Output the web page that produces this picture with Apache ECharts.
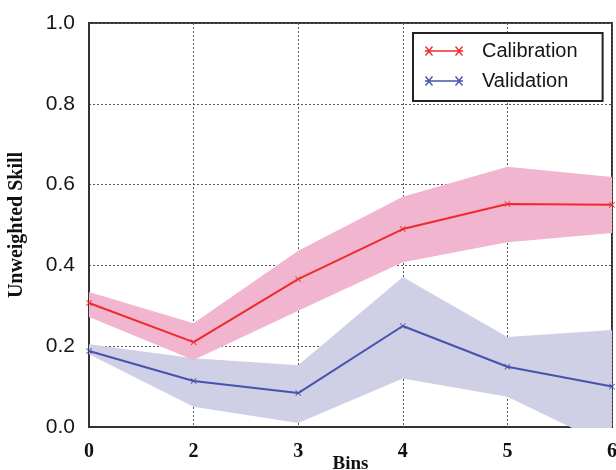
<!DOCTYPE html>
<html>
<head>
<meta charset="utf-8">
<style>
  html, body { margin: 0; padding: 0; background: #fff; }
  #chart { width: 616px; height: 470px; }
</style>
<script src="https://cdn.jsdelivr.net/npm/echarts@6/dist/echarts.min.js"></script>
</head>
<body>
<div id="chart"></div>
<script>
// bins along the x axis
const bins = ["0", "2", "3", "4", "5", "6"];

// calibration skill and its band
const calMean = [0.307, 0.21, 0.366, 0.49, 0.552, 0.55];
const calLower = [0.272, 0.166, 0.288, 0.408, 0.457, 0.48];
const calUpper = [0.334, 0.257, 0.436, 0.57, 0.644, 0.619];

// validation skill and its band
const valMean = [0.188, 0.114, 0.084, 0.25, 0.149, 0.1];
const valLower = [0.18, 0.05, 0.01, 0.12, 0.075, -0.05];
const valUpper = [0.205, 0.17, 0.153, 0.371, 0.223, 0.24];

const yTicks = [0, 0.2, 0.4, 0.6, 0.8, 1.0];

const crossPath = "path://M0,1L1,0L5,4L9,0L10,1L6,5L10,9L9,10L5,6L1,10L0,9L4,5Z";
const legendIcon =
  "path://M0,4.3L38,4.3L38,5.7L0,5.7Z" +
  "M0,1L1,0L4,3.5L7,0L8,1L4.6,5L8,9L7,10L4,6.5L1,10L0,9L3.4,5Z" +
  "M30,1L31,0L34,3.5L37,0L38,1L34.6,5L38,9L37,10L34,6.5L31,10L30,9L33.4,5Z";

const calColor = "#ee2b2b";
const calBand = "#f1b5cf";
const valColor = "#4652ad";
const valBand = "#cfcfe6";

function band(name, lower, upper, color) {
  return [
    {
      name: name + "-low",
      type: "line",
      stack: name,
      stackStrategy: "all",
      data: lower,
      symbol: "none",
      lineStyle: { opacity: 0 },
      silent: true,
    },
    {
      name: name + "-band",
      type: "line",
      stack: name,
      stackStrategy: "all",
      data: upper.map((u, i) => u - lower[i]),
      symbol: "none",
      lineStyle: { opacity: 0 },
      areaStyle: { color: color, opacity: 1 },
      silent: true,
    },
  ];
}

const chart = echarts.init(document.getElementById("chart"));

chart.setOption({
  animation: false,
  grid: {
    left: 89,
    right: 4,
    top: 23,
    bottom: 43,
    outerBoundsMode: "none",
    containLabel: false,
    show: true,
    borderColor: "#333",
    borderWidth: 2,
    backgroundColor: "transparent",
  },
  legend: {
    data: ["Calibration", "Validation"],
    orient: "vertical",
    left: 413,
    top: 33,
    padding: [8, 25, 10, 12],
    itemWidth: 38,
    itemHeight: 14,
    itemGap: 10,
    backgroundColor: "#fff",
    borderColor: "#222",
    borderWidth: 2,
    borderRadius: 0,
    icon: legendIcon,
    textStyle: {
      fontFamily: "Liberation Sans",
      fontSize: 20,
      color: "#151515",
      padding: [0, 0, 0, 14],
    },
  },
  xAxis: {
    type: "category",
    data: bins,
    boundaryGap: false,
    name: "Bins",
    nameLocation: "middle",
    nameGap: 28,
    nameMoveOverlap: false,
    nameTextStyle: {
      fontFamily: "Liberation Serif",
      fontWeight: "bold",
      fontSize: 19,
      color: "#111",
      verticalAlign: "top",
    },
    axisLine: { lineStyle: { color: "#333", width: 2 } },
    axisTick: { show: false },
    axisLabel: {
      margin: 15,
      fontFamily: "Liberation Serif",
      fontWeight: "bold",
      fontSize: 20,
      color: "#111",
    },
    splitLine: {
      show: true,
      lineStyle: { color: "#555", type: [2, 2], width: 1 },
    },
  },
  yAxis: {
    type: "value",
    min: yTicks[0],
    max: yTicks[yTicks.length - 1],
    interval: 0.2,
    name: "Unweighted Skill",
    nameLocation: "middle",
    nameGap: 62,
    nameMoveOverlap: false,
    nameTextStyle: {
      fontFamily: "Liberation Serif",
      fontWeight: "bold",
      fontSize: 20,
      color: "#111",
    },
    axisLine: { show: true, lineStyle: { color: "#333", width: 2 } },
    axisTick: { show: false },
    axisLabel: {
      margin: 14,
      fontFamily: "Liberation Sans",
      fontSize: 21,
      color: "#151515",
      formatter: (v) => v.toFixed(1),
    },
    splitLine: {
      show: true,
      lineStyle: { color: "#555", type: [2, 2], width: 1 },
    },
  },
  series: [
    ...band("val", valLower, valUpper, valBand),
    ...band("cal", calLower, calUpper, calBand),
    {
      name: "Calibration",
      type: "line",
      data: calMean,
      symbol: crossPath,
      symbolSize: 6,
      lineStyle: { color: calColor, width: 2 },
      itemStyle: { color: calColor },
      z: 5,
    },
    {
      name: "Validation",
      type: "line",
      data: valMean,
      symbol: crossPath,
      symbolSize: 6,
      lineStyle: { color: valColor, width: 2 },
      itemStyle: { color: valColor },
      z: 5,
    },
  ],
});
</script>
</body>
</html>
